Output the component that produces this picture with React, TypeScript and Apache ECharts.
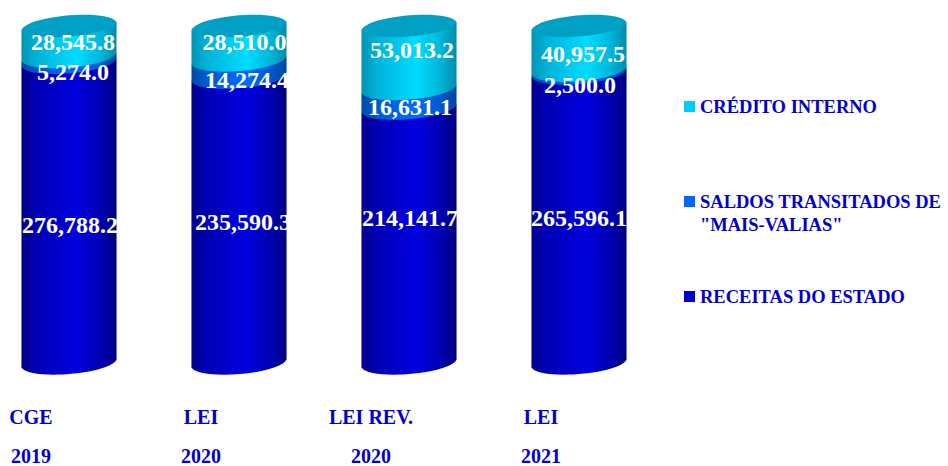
import React, { useEffect, useRef } from "react";
import * as echarts from "echarts";

const categories = ["CGE\n2019", "LEI\n2020", "LEI REV.\n2020", "LEI\n2021"];
const receitas = [276788.2, 235590.3, 214141.7, 265596.1];
const saldos = [5274.0, 14274.4, 16631.1, 2500.0];
const credito = [28545.8, 28510.0, 53013.2, 40957.5];

const NAME_RECEITAS = "RECEITAS DO ESTADO";
const NAME_SALDOS = 'SALDOS TRANSITADOS DE\n"MAIS-VALIAS"';
const NAME_CREDITO = "CRÉDITO INTERNO";

const stacks = [receitas, saldos, credito];
const totals = categories.map((_, i) => stacks.reduce((s, a) => s + a[i], 0));

// Cylinder geometry: a tilted elliptical cross-section.
const RX = 47.7;
const RY = 10.5;
const TILT = (-4.8 * Math.PI) / 180;
const COS = Math.cos(TILT);
const SIN = Math.sin(TILT);
const DX = RX * COS;
const DY = RX * SIN;

const INK = "#0000CC";
const labelFont = "bold 24px 'Liberation Serif'";

// Label nudges [dx, dy] from the middle of each segment, per cylinder.
const receitasNudge = [[1, 12], [4, 1.4], [1, -18], [0, 0]];
const saldosNudge = [[4, 11.7], [8, 11], [1, 8], [1, 13]];
const creditoNudge = [[4, 0], [5.5, -1], [3, -7.5], [4, 5.6]];

// Side shading of the cylinder: [offset, colour] pairs per segment.
const receitasShade: [number, string][] = [[0, "#00008C"], [0.16, "#0000B4"], [0.58, "#0000E0"], [0.84, "#0000B0"], [1, "#000080"]];
const saldosShade: [number, string][] = [[0, "#004AA8"], [0.16, "#005AD0"], [0.58, "#006CF8"], [0.84, "#0058CC"], [1, "#00469E"]];
const creditoShade: [number, string][] = [[0, "#0094B4"], [0.16, "#00B2D8"], [0.58, "#00DCFF"], [0.84, "#00B4D8"], [1, "#008CAA"]];

const bodyGradient = (stops: [number, string][]) =>
  new echarts.graphic.LinearGradient(
    0,
    0,
    1,
    0,
    stops.map(([offset, color]) => ({ offset, color }))
  );

function stackRows(idx: number) {
  return categories.map((_, i) => {
    let below = 0;
    for (let k = 0; k < idx; k++) below += stacks[k][i];
    return [
      i,
      (below / totals[i]) * 100,
      ((below + stacks[idx][i]) / totals[i]) * 100,
      stacks[idx][i],
    ];
  });
}

// Point in the tilted frame of a cross-section centred on (cx, cy).
const tilted = (cx: number, cy: number, u: number, v: number) =>
  `${cx + u * COS - v * SIN} ${cy + u * SIN + v * COS}`;

// Cubic for half of a cross-section, ending at the end u = toU; side +1 is the
// front half, -1 the back half.
const halfCurve = (cx: number, cy: number, toU: number, side: number) => {
  const h = side * RY * (4 / 3);
  return `C${tilted(cx, cy, -toU * RX * 0.85, h)} ${tilted(cx, cy, toU * RX * 0.85, h)} ${tilted(cx, cy, toU * RX, 0)}`;
};

function makeSeries(
  name: string,
  idx: number,
  stops: [number, string][],
  flat: string,
  nudge: number[][],
  capped: boolean
) {
  return {
    type: "custom",
    name,
    color: flat,
    itemStyle: { color: flat },
    encode: { x: 0, y: [1, 2] },
    data: stackRows(idx),
    clip: false,
    silent: true,
    renderItem: (_p: any, api: any) => {
      const i = api.value(0);
      const [cx, yLow] = api.coord([i, api.value(1)]);
      const [, yHigh] = api.coord([i, api.value(2)]);
      const d =
        `M${cx - DX} ${yHigh - DY}L${cx + DX} ${yHigh + DY}` +
        `L${cx + DX} ${yLow + DY}` +
        halfCurve(cx, yLow, -1, 1) +
        "Z";
      const children: any[] = [
        {
          type: "path",
          shape: { pathData: d },
          z2: idx + 1,
          style: { fill: bodyGradient(stops) },
        },
      ];
      if (capped) {
        children.push({
          type: "path",
          shape: {
            pathData:
              `M${tilted(cx, yHigh, -RX, 0)}` +
              halfCurve(cx, yHigh, 1, 1) +
              halfCurve(cx, yHigh, -1, -1) +
              "Z",
          },
          z2: 20,
          style: { fill: "#00A0C4" },
        });
      }
      const [nx, ny] = nudge[i];
      children.push({
        type: "text",
        z2: 100,
        x: cx + nx,
        y: (yLow + yHigh) / 2 + ny,
        style: {
          text: api.value(3).toLocaleString("en-US", { minimumFractionDigits: 1, maximumFractionDigits: 1 }),
          font: labelFont,
          fill: "#FFFFFF",
          align: "center",
          verticalAlign: "middle",
        },
      });
      return { type: "group", children };
    },
  };
}

const legendEntry = (name: string, top: number, icon = "rect", itemHeight = 11) => ({
  show: true,
  data: [name],
  left: 684,
  top,
  orient: "vertical",
  itemWidth: 11,
  itemHeight,
  itemGap: 0,
  selectedMode: false,
  padding: 0,
  icon,
  textStyle: {
    fontFamily: "Liberation Serif",
    fontWeight: "bold",
    fontSize: 18.5,
    lineHeight: 23,
    color: INK,
  },
});

// The two-line entry keeps its swatch beside the first line: the empty
// sub-path stretches the icon box so the square sits at the top of it.
const FIRST_LINE_ICON = "path://M0 0H11V11H0Z M0 34H11Z";

export default function App() {
  const ref = useRef<HTMLDivElement>(null);
  useEffect(() => {
    const chart = echarts.init(ref.current!, null, { renderer: "svg" });
    chart.setOption({
      animation: false,
      backgroundColor: "#FFFFFF",
      grid: { left: -16, right: 284, top: 26, bottom: 102.5, outerBoundsMode: "none" },
      legend: [
        legendEntry(NAME_CREDITO, 95),
        legendEntry(NAME_SALDOS, 190, FIRST_LINE_ICON, 34),
        legendEntry(NAME_RECEITAS, 285),
      ],
      xAxis: {
        type: "category",
        data: categories,
        axisLine: { show: false },
        axisTick: { show: false },
        axisLabel: {
          interval: 0,
          margin: 34,
          color: INK,
          fontFamily: "Liberation Serif",
          fontWeight: "bold",
          fontSize: 20,
          lineHeight: 39,
          padding: [0, 76, 0, 0],
        },
      },
      yAxis: { type: "value", min: 0, max: 100, show: false },
      series: [
        makeSeries(NAME_RECEITAS, 0, receitasShade, "#0000CC", receitasNudge, false),
        makeSeries(NAME_SALDOS, 1, saldosShade, "#0066FF", saldosNudge, false),
        makeSeries(NAME_CREDITO, 2, creditoShade, "#00CCFF", creditoNudge, true),
      ],
    });
    return () => chart.dispose();
  }, []);
  return <div ref={ref} style={{ width: 948, height: 466, position: "fixed", left: 0, top: 0 }} />;
}
